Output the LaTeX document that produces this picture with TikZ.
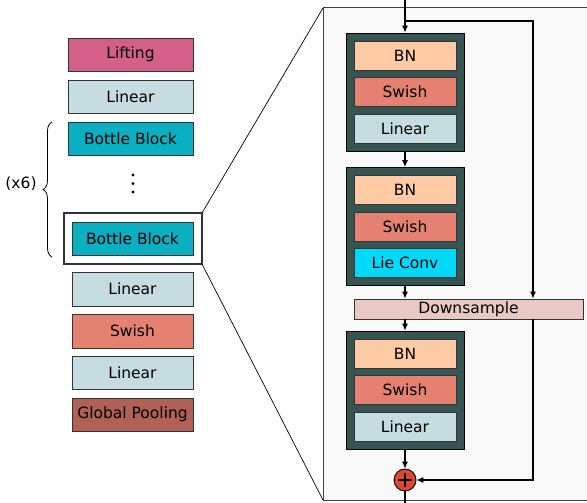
\documentclass[tikz,border=0pt]{standalone}
\usepackage{fontspec}
\setmainfont{DejaVu Sans}
\usetikzlibrary{decorations.pathreplacing,arrows.meta}

\definecolor{liftcol}{HTML}{D4608A}
\definecolor{lincol}{HTML}{C5DDE0}
\definecolor{bottlecol}{HTML}{0AAFC2}
\definecolor{swishcol}{HTML}{E48171}
\definecolor{poolcol}{HTML}{B06055}
\definecolor{bncol}{HTML}{FFCBA4}
\definecolor{liecol}{HTML}{00D9FA}
\definecolor{downcol}{HTML}{E8C9C4}
\definecolor{blockcol}{HTML}{355452}
\definecolor{pluscol}{HTML}{E0472F}
\definecolor{panelcol}{HTML}{F9F9F9}

\tikzset{
  layer/.style={draw=black!80, line width=0.9pt, minimum width=125pt, minimum height=33pt,
    inner sep=0pt, font=\fontsize{15.5}{18}\selectfont},
  sublayer/.style={layer, minimum width=102pt, minimum height=29pt},
  resblock/.style={draw=black, line width=0.9pt, fill=blockcol, minimum width=118pt,
    minimum height=118pt, inner sep=0pt},
  flow/.style={-{Latex[length=7pt, width=6pt]}, line width=1.1pt}
}

\begin{document}
\begin{tikzpicture}[x=1pt, y=-1pt]
\useasboundingbox (0,0) rectangle (587,503);
\clip (0,0) rectangle (587,503);

% main network
\node[layer, fill=liftcol] (lift) at (130.5,54.5) {Lifting};
\node[layer, fill=lincol] (lin1) at (130.5,96.5) {Linear};
\node[layer, fill=bottlecol] (bb1) at (130.5,138.5) {Bottle Block};
\foreach \y in {175,183.5,192} \fill (133,\y) circle (1.7);
\draw[line width=1.6pt, black!80] (64,213) rectangle (202,264);
\node[layer, fill=bottlecol, minimum width=121pt] (bb2) at (132.5,238.5) {Bottle Block};
\node[layer, fill=lincol, minimum width=121pt, minimum height=34pt] (lin2) at (132.5,289) {Linear};
\node[layer, fill=swishcol, minimum width=121pt, minimum height=34pt] (sw) at (132.5,331) {Swish};
\node[layer, fill=lincol, minimum width=121pt] (lin3) at (132.5,372.5) {Linear};
\node[layer, fill=poolcol, minimum width=121pt] (pool) at (132.5,414.5) {Global Pooling};

\draw[decorate, decoration={brace, amplitude=9pt}, line width=0.8pt] (52,257) -- (52,122);
\node[font=\fontsize{15.5}{18}\selectfont] (rep) at (21,184) {(x6)};

% zoom lines
\draw[line width=0.7pt] (202,213) -- (323,8);
\draw[line width=0.7pt] (202,264) -- (323,500);

% block detail
\draw[fill=panelcol, draw=black!75, line width=1pt] (323,8) rectangle (620,500);

\node[resblock] (blk1) at (405,92) {};
\node[sublayer, fill=bncol] (bn1) at (405,55.5) {BN};
\node[sublayer, fill=swishcol] (sw1) at (405,92) {Swish};
\node[sublayer, fill=lincol] (lin4) at (405,128.5) {Linear};

\node[resblock] (blk2) at (405,226.5) {};
\node[sublayer, fill=bncol] (bn2) at (405,190) {BN};
\node[sublayer, fill=swishcol] (sw2) at (405,226.5) {Swish};
\node[sublayer, fill=liecol] (lie) at (405,263) {Lie Conv};

\node[layer, fill=downcol, minimum width=229pt, minimum height=20pt] (down) at (468.5,309) {Downsample};

\node[resblock] (blk3) at (405,390) {};
\node[sublayer, fill=bncol] (bn3) at (405,353.5) {BN};
\node[sublayer, fill=swishcol] (sw3) at (405,390) {Swish};
\node[sublayer, fill=lincol] (lin5) at (405,427) {Linear};

\node[circle, draw=black, line width=0.9pt, fill=pluscol, minimum size=22pt, inner sep=0pt] (plus) at (405,480) {};
\draw[line width=1.4pt] ([xshift=-7pt]plus.center) -- ([xshift=7pt]plus.center)
  ([yshift=-7pt]plus.center) -- ([yshift=7pt]plus.center);

\coordinate (in) at (405,0);
\coordinate (split) at (405,21);
\coordinate (out) at (405,510);

\draw[flow] (in) -- (blk1.north);
\draw[flow] (blk1.south) -- (blk2.north);
\draw[flow] (blk2.south) -- (blk2.south |- down.north);
\draw[flow] (blk3.north |- down.south) -- (blk3.north);
\draw[flow] (blk3.south) -- (plus.north);
\draw[flow] (plus.south) -- (out);
\draw[flow] (split) -| (533,0 |- down.north);
\draw[flow] (533,0 |- down.south) |- (plus.east);
\end{tikzpicture}
\end{document}
